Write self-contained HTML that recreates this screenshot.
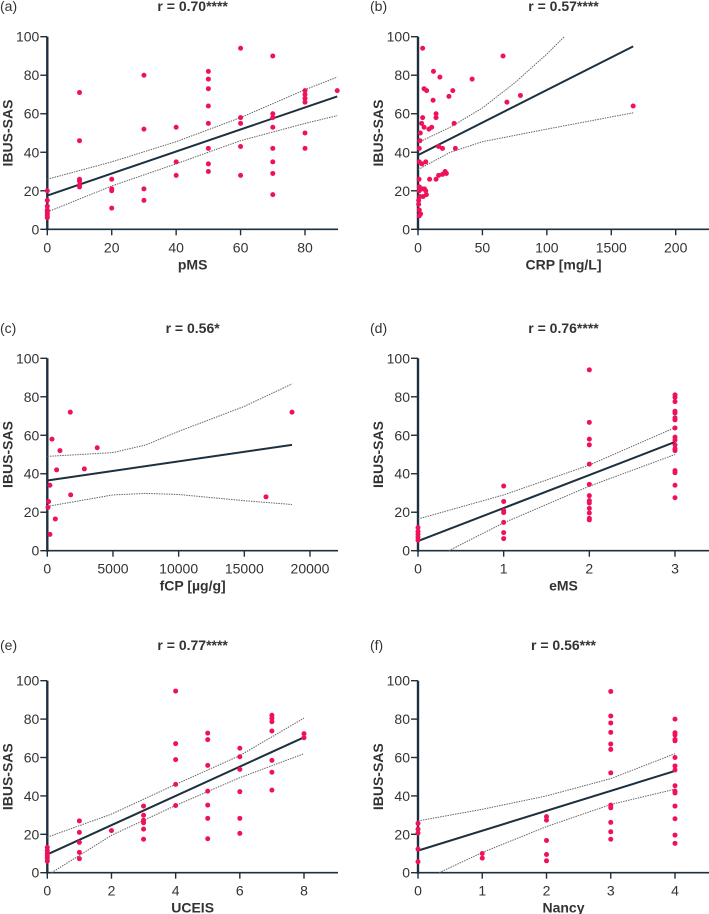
<!DOCTYPE html>
<html><head><meta charset="utf-8"><style>
html,body{margin:0;padding:0;background:#fff;}
svg{display:block;font-family:"Liberation Sans",sans-serif;}
</style></head><body>
<svg id="chart" width="709" height="914" viewBox="0 0 709 914"></svg>
<script>
// ---------- Panel (a) pMS ----------
const aX = [0,0,0,0,0,0,0,0, 10,10,10,10,10,10, 20,20,20,20, 30,30,30,30, 40,40,40, 50,50,50,50,50,50,50,50, 60,60,60,60,60, 70,70,70,70,70,70,70,70, 80,80,80,80,80,80, 90];
const aY = [20,15,12,10,9,8,7,6, 71,46,26,25,23,22, 26,21,20,11, 80,52,21,15, 53,35,28, 82,78,73,64,55,42,34,30, 94,58,55,43,28, 90,60,58,53,42,35,29,18, 72,70,68,66,50,42, 72];
const aRegX = [0,90], aRegY = [17.5,69];
const aCiX = [0,20,40,60,80,90], aCiUp = [26,35,45.5,58,72.5,79], aCiLo = [9,22.5,34,46,55,59];
const aXTicks = [0,20,40,60,80], aXTickLabels = ["0","20","40","60","80"];

// ---------- Panel (b) CRP ----------
const bX = [3.6,66,12,17,42,4.7,6.7,27,24,79.5,11.7,69,167,14,14,3.6,2.8,28,4.7,10.6,8.5,1.8,1.5,1,16,19,29,1,6,3,9,0.8,14,16,19,21,22,1,3,5,1,6,6.5,4,1.5,0.5,0.5,1,2,1];
const bY = [94,90,82,79,78,73,72,72,69,69.5,67,66,64,60,58,58,55,55,53,53,52,50,46,42,43,42,42,35,35,34,26,26,26,28,28.5,30,29,22,21,21,20,20,18,17,17,15,13,10,8,7];
const bRegX = [0,167], bRegY = [38.5,95];
const bCiUpX = [0,25,50,75,100,113.5], bCiUp = [45,53,63,76,91,100];
const bCiLoX = [0,25,50,100,167], bCiLo = [31,40,45.5,52,60.5];
const bXTicks = [0,50,100,150,200], bXTickLabels = ["0","50","100","1500","200"];

// ---------- Panel (c) fCP ----------
const cX = [1750,18630,355,965,3800,710,2820,200,1780,16650,100,50,610,200];
const cY = [72,72,58,52,53.5,42,42.5,34,29,28,25.5,22.5,16.5,8.5];
const cRegX = [0,18630], cRegY = [36.5,55];
const cCiX = [0,5000,7500,10000,15000,18630], cCiUp = [49,51,55,62,75,86.7], cCiLo = [23,29,29.8,29.2,26,24];
const cXTicks = [0,5000,10000,15000,20000], cXTickLabels = ["0","5000","10000","15000","20000"];

// ---------- Panel (d) eMS ----------
const dX = [0,0,0,0,0, 1,1,1,1,1,1,1, 2,2,2,2,2,2,2,2,2,2,2,2,2, 3,3,3,3,3,3,3,3,3,3,3,3,3,3,3,3,3];
const dY = [12,10,8.5,7,5.5, 33.6,25.6,20.8,19.8,14.7,9.4,6.3, 94,66.7,58,55,45,34.5,28.6,26,24.8,22,19.6,16.8,16, 81,79.7,77.5,72.5,71.6,69,68,63.8,59,57.5,55,53,52,41.6,40.5,34,27.5];
const dRegX = [0,3], dRegY = [5,56.5];
const dCiUpX = [0,1,2,3], dCiUp = [16.5,29,44.5,64];
const dCiLoX = [0.36,1,2,3], dCiLo = [0,14.5,33.5,50];
const dXTicks = [0,1,2,3], dXTickLabels = ["0","1","2","3"];

// ---------- Panel (e) UCEIS ----------
const eX = [0,0,0,0,0,0, 1,1,1,1,1, 2, 3,3,3,3,3,3, 4,4,4,4,4, 5,5,5,5,5,5,5, 6,6,6,6,6,6, 7,7,7,7,7,7,7, 8,8];
const eY = [13.2,11.5,10,8.7,7.5,6, 27,21,15.8,10.6,7.3, 21.9, 34.7,29.9,27.3,26,22.7,17.4, 94.6,67.2,58.9,46,35, 72.7,69.3,55.9,42.5,35.2,28.3,17.7, 64.8,60.4,53.8,42.2,28.3,20.5, 82,80.4,78.6,73.8,58.5,52.3,43, 72.4,70.3];
const eRegX = [0,8], eRegY = [9.5,70.5];
const eCiUpX = [0,2,4,6,8], eCiUp = [18.5,30.5,46,61,80.5];
const eCiLoX = [0.13,1,2,4,6,8], eCiLo = [0,9,19.5,35,49.5,62];
const eXTicks = [0,2,4,6,8], eXTickLabels = ["0","2","4","6","8"];

// ---------- Panel (f) Nancy ----------
const fX = [0,0,0,0,0, 1,1, 2,2,2,2,2, 3,3,3,3,3,3,3,3,3,3,3,3, 4,4,4,4,4,4,4,4,4,4,4,4,4,4,4];
const fY = [25.7,22.7,20.7,12.3,5.7, 10,7.6, 29.2,27.4,16.8,9.5,6.2, 94.4,81.6,78,73.1,67,64.2,52,35.2,33.8,26.2,21.3,17.4, 80,72.9,71.7,69.4,68.7,60,55.6,53.5,45.3,42.5,41.5,34.7,28.1,19.6,15.3];
const fRegX = [0,4], fRegY = [11.5,53];
const fCiUpX = [0,1,2,3,4], fCiUp = [27,33,40,49,62];
const fCiLoX = [0.33,1,2,3,4], fCiLo = [0,10.5,24,35.5,43.5];
const fXTicks = [0,1,2,3,4], fXTickLabels = ["0","1","2","3","4"];

const yTicks = [0,20,40,60,80,100];

const NS = "http://www.w3.org/2000/svg";
const svg = document.getElementById("chart");
const AX = "#1c3040", PT = "#f0115b";

function mk(tag, attrs, parent){
  const e = document.createElementNS(NS, tag);
  for (const k in attrs) e.setAttribute(k, attrs[k]);
  (parent||svg).appendChild(e);
  return e;
}
function txt(parent, x, y, s, size, weight, anchor){
  const t = mk("text", {x:x, y:y, "font-size":size, "font-weight":weight||"normal", "text-anchor":anchor||"middle", fill:"#333"}, parent);
  t.textContent = s;
  return t;
}

function panel(p){
  const g = mk("g", {});
  
  
  const sx = v => p.x0 + (v - 0) * (p.xEndPx - p.x0) / p.xMax;
  const sy = v => p.yb - v * (p.yb - p.yt) / 100;

  const lab = txt(g, p.labX, p.titleY, "(" + p.id + ")", 14, "normal", "start");
  
  
  const title = txt(g, (p.x0 + p.axisEnd)/2, p.titleY, p.title, 14, "bold");
  
  

  // axes
  const ya = mk("line", {x1:p.x0, y1:p.yt, x2:p.x0, y2:p.yb+1, stroke:AX, "stroke-width":2.4}, g);
  
  
  const xa = mk("line", {x1:p.x0-1, y1:p.yb, x2:p.axisEnd, y2:p.yb, stroke:AX, "stroke-width":1.6}, g);
  
  

  yTicks.forEach(v => {
    mk("line", {x1:p.x0-7, y1:sy(v), x2:p.x0, y2:sy(v), stroke:AX, "stroke-width":1.4}, g);
    const t = txt(g, p.x0-8, sy(v)+5, String(v), 14, "normal", "end");
    
    
  });
  p.xTicks.forEach((v,i) => {
    mk("line", {x1:sx(v), y1:p.yb, x2:sx(v), y2:p.yb+6, stroke:AX, "stroke-width":1.4}, g);
    const t = txt(g, sx(v), p.yb+23, p.xTickLabels[i], 14);
    
    
  });
  const xl = txt(g, (p.x0+p.axisEnd)/2, p.yb+40, p.xLabel, 14, "bold");
  
  
  const cy = (p.yt+p.yb)/2;
  const yl = txt(g, p.x0-40+5, cy, "IBUS-SAS", 14, "bold");
  yl.setAttribute("transform", "rotate(-90 " + (p.x0-35) + " " + cy + ")");
  
  

  // CI bands
  const band = (xs, ys, name) => {
    const pts = xs.map((v,i) => sx(v).toFixed(1) + "," + sy(ys[i]).toFixed(1)).join(" ");
    const l = mk("polyline", {points:pts, fill:"none", stroke:"#666", "stroke-width":1, "stroke-dasharray":"1.5,1"}, g);
    
    
  };
  band(p.ciUpX, p.ciUp, 'ci-upper-' + p.id);
  band(p.ciLoX, p.ciLo, 'ci-lower-' + p.id);

  // regression
  const r = mk("line", {x1:sx(p.regX[0]), y1:sy(p.regY[0]), x2:sx(p.regX[1]), y2:sy(p.regY[1]), stroke:AX, "stroke-width":2}, g);
  
  

  // points
  p.xs.forEach((v,i) => {
    const c = mk("circle", {cx:sx(v), cy:sy(p.ys[i]), r:2.5, fill:PT}, g);
    
    
  });
}

const L = {x0:47.3, axisEnd:338, labX:0};
const R = {x0:418, axisEnd:709, labX:370};
const rows = [
  {yt:36.7, yb:229.3, titleY:11},
  {yt:358.3, yb:550.7, titleY:333},
  {yt:680.7, yb:872.7, titleY:650}
];
panel(Object.assign({}, L, rows[0], {id:"a", title:"r = 0.70****", xLabel:"pMS", xMax:80, xEndPx:305,
  xs:aX, ys:aY, regX:aRegX, regY:aRegY, ciUpX:aCiX, ciUp:aCiUp, ciLoX:aCiX, ciLo:aCiLo, xTicks:aXTicks, xTickLabels:aXTickLabels}));
panel(Object.assign({}, R, rows[0], {id:"b", title:"r = 0.57****", xLabel:"CRP [mg/L]", xMax:200, xEndPx:675.7,
  xs:bX, ys:bY, regX:bRegX, regY:bRegY, ciUpX:bCiUpX, ciUp:bCiUp, ciLoX:bCiLoX, ciLo:bCiLo, xTicks:bXTicks, xTickLabels:bXTickLabels}));
panel(Object.assign({}, L, rows[1], {id:"c", title:"r = 0.56*", xLabel:"fCP [µg/g]", xMax:20000, xEndPx:310,
  xs:cX, ys:cY, regX:cRegX, regY:cRegY, ciUpX:cCiX, ciUp:cCiUp, ciLoX:cCiX, ciLo:cCiLo, xTicks:cXTicks, xTickLabels:cXTickLabels}));
panel(Object.assign({}, R, rows[1], {id:"d", title:"r = 0.76****", xLabel:"eMS", xMax:3, xEndPx:675,
  xs:dX, ys:dY, regX:dRegX, regY:dRegY, ciUpX:dCiUpX, ciUp:dCiUp, ciLoX:dCiLoX, ciLo:dCiLo, xTicks:dXTicks, xTickLabels:dXTickLabels}));
panel(Object.assign({}, L, rows[2], {id:"e", title:"r = 0.77****", xLabel:"UCEIS", xMax:8, xEndPx:304,
  xs:eX, ys:eY, regX:eRegX, regY:eRegY, ciUpX:eCiUpX, ciUp:eCiUp, ciLoX:eCiLoX, ciLo:eCiLo, xTicks:eXTicks, xTickLabels:eXTickLabels}));
panel(Object.assign({}, R, rows[2], {id:"f", title:"r = 0.56***", xLabel:"Nancy", xMax:4, xEndPx:675,
  xs:fX, ys:fY, regX:fRegX, regY:fRegY, ciUpX:fCiUpX, ciUp:fCiUp, ciLoX:fCiLoX, ciLo:fCiLo, xTicks:fXTicks, xTickLabels:fXTickLabels}));
</script>
</body></html>
